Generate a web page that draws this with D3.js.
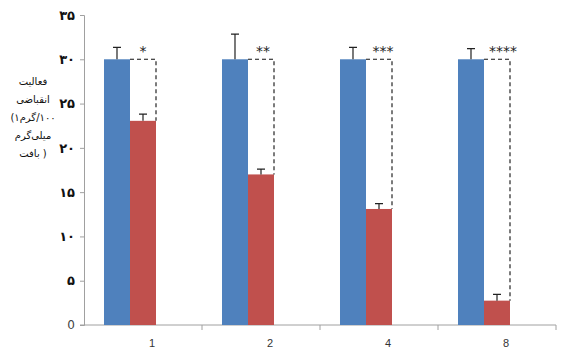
<!DOCTYPE html>
<html><head><meta charset="utf-8">
<script src="https://cdn.jsdelivr.net/npm/d3@7"></script>
<style>body{margin:0;background:#fff}svg{display:block}</style>
</head><body>
<svg id="c" width="571" height="358"></svg>
<script>
const categories = ["1","2","4","8"];
const controlValues = [30,30,30,30];
const controlErrors = [1.35,2.85,1.35,1.2];
const treatedValues = [23.05,17.0,13.1,2.75];
const treatedErrors = [0.75,0.6,0.6,0.7];
const stars = ["*","**","***","****"];
const yTicks = [0,5,10,15,20,25,30,35];
const yTitleLines = ["فعالیت","انقباضی","\u200E(۱گرم\u200E/۱۰۰","میلی‌گرم","\u200Eبافت )"];

const svg = d3.select("#c");
const mLeft=84,mRight=556,mTop=15,mBottom=325;
const x = d3.scaleBand().domain(categories).range([mLeft,mRight]).padding(0);
const xs = d3.scaleBand().domain(["control","treated","gap"]).range([0,x.bandwidth()]).paddingInner(0).paddingOuter(0.769);
const y = d3.scaleLinear().domain([0,35]).range([mBottom,mTop]);
const fa = s => s.replace(/[0-9]/g,d=>"۰۱۲۳۴۵۶۷۸۹"[+d]);

// y axis
const yAxis = d3.axisLeft(y).tickValues(yTicks).tickSize(4).tickPadding(5)
  .tickFormat(d=> d===0 ? "0" : fa(String(d)));
const gy = svg.append("g").attr("transform",`translate(${mLeft},0)`).call(yAxis);
gy.select(".domain").attr("stroke","#a0a0a0");
gy.selectAll(".tick line").attr("stroke","#a0a0a0");
gy.selectAll(".tick text").attr("fill","#111").style("font-family","DejaVu Sans").style("font-weight","bold").style("font-size","13px");
gy.selectAll(".tick").filter(d=>d===0).select("text").style("font-weight","normal").style("font-size","12px").attr("fill","#444");

// x axis
const gx = svg.append("g").attr("transform",`translate(0,${mBottom})`);
gx.append("line").attr("x1",mLeft-4).attr("x2",mRight).attr("stroke","#a0a0a0");
const bounds = categories.map(c=>x(c)).concat([mRight]).slice(1);
gx.selectAll(".xt").data(bounds).join("line").attr("x1",d=>d).attr("x2",d=>d).attr("y1",0).attr("y2",5).attr("stroke","#a0a0a0");
gx.selectAll(".xl").data(categories).join("text")
  .attr("x",c=>x(c)+xs("treated")+xs.bandwidth()*0.85).attr("y",22)
  .attr("text-anchor","middle").style("font-family","Liberation Sans, Arial").style("font-size","11px").attr("fill","#333").text(c=>c);

const data = categories.map((c,i)=>({c,cv:controlValues[i],ce:controlErrors[i],tv:treatedValues[i],te:treatedErrors[i],s:stars[i]}));
const g = svg.append("g");
// bars
g.selectAll(".cb").data(data).join("rect").attr("x",d=>x(d.c)+xs("control")).attr("width",xs.bandwidth())
  .attr("y",d=>y(d.cv)).attr("height",d=>y(0)-y(d.cv)).attr("fill","#4F81BD");
g.selectAll(".tb").data(data).join("rect").attr("x",d=>x(d.c)+xs("treated")).attr("width",xs.bandwidth())
  .attr("y",d=>y(d.tv)).attr("height",d=>y(0)-y(d.tv)).attr("fill","#C0504D");
// error bars
function err(sel,key,vk,ek){
  sel.append("g").selectAll("path").data(data).join("path")
    .attr("d",d=>{const cx=x(d.c)+xs(key)+xs.bandwidth()/2, y0=y(d[vk]), y1=y(d[vk]+d[ek]);
      return `M${cx},${y0}V${y1}M${cx-4},${y1}H${cx+4}`;})
    .attr("stroke","#222").attr("stroke-width",1.2).attr("fill","none");
}
err(g,"control","cv","ce");
err(g,"treated","tv","te");
// dashed bracket
g.append("g").selectAll("path").data(data).join("path")
  .attr("d",d=>{const x0=x(d.c)+xs("treated"), x1=x0+xs.bandwidth();
    return `M${x0},${y(d.cv)}H${x1}V${y(d.tv)}`;})
  .attr("stroke","#111").attr("stroke-width",1.1).attr("stroke-dasharray","4,3").attr("fill","none");
// stars
g.append("g").selectAll("text").data(data).join("text")
  .attr("x",d=>x(d.c)+xs("treated")+xs.bandwidth()/2 + (d.s.length-1)*2)
  .attr("y",d=>y(d.cv)-3)
  .attr("text-anchor","middle").style("font-family","DejaVu Sans").style("font-size","14px").attr("fill","#222")
  .text(d=>d.s);

// y title
svg.append("g").selectAll("text").data(yTitleLines).join("text")
  .attr("x",33).attr("y",(d,i)=>85+i*18).attr("text-anchor","middle").style("direction","ltr")
  .style("font-family","DejaVu Sans").style("font-size","10px").attr("fill","#111").text(d=>d);
</script>
</body></html>
